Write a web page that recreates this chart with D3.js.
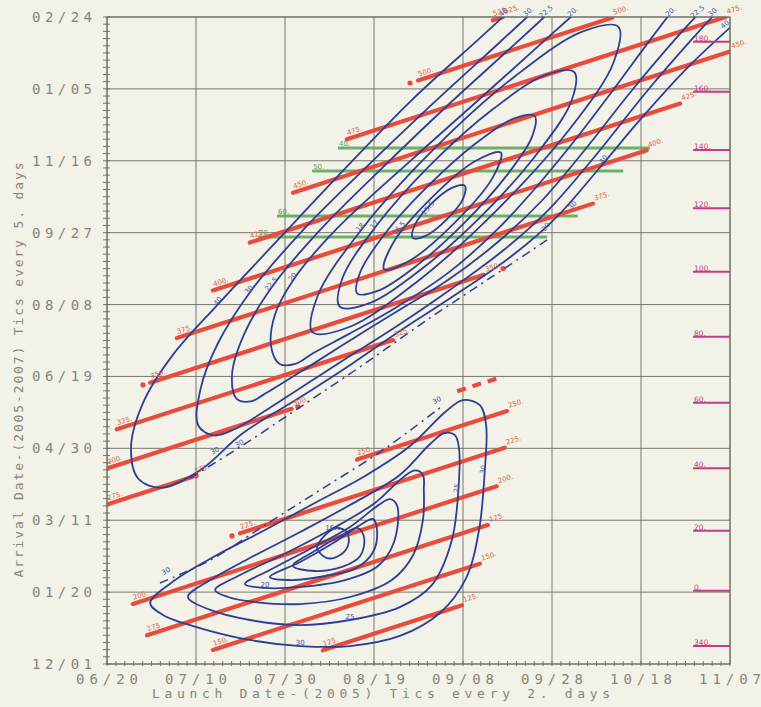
<!DOCTYPE html>
<html>
<head>
<meta charset="utf-8">
<script src="https://cdn.jsdelivr.net/npm/d3@7"></script>
<style>
  html, body { margin: 0; padding: 0; background: #f3f2e8; }
  svg { display: block; }
</style>
</head>
<body>
<svg id="chart" width="761" height="707"></svg>
<script>
// ---- Porkchop plot: Earth–Mars launch 2005, arrival 2005-2007 ----
// Launch values are days after 2005-06-20, arrival values days after 2005-12-01.

const launchTickDates = ["2005-06-20","2005-07-10","2005-07-30","2005-08-19","2005-09-08","2005-09-28","2005-10-18","2005-11-07"];
const arrivalTickDates = ["2005-12-01","2006-01-20","2006-03-11","2006-04-30","2006-06-19","2006-08-08","2006-09-27","2006-11-16","2007-01-05","2007-02-24"];

// Time-of-flight lines (days), with launch range drawn
const tofDays     = [125, 150, 175, 200, 225, 250, 275, 300, 325, 350, 375, 400, 425, 450, 475, 500, 525];
const tofLaunchLo = [48.5, 23.8, 9.0, 5.8, 29.9, 56.2, 0.0, 0.0, 2.2, 9.7, 15.7, 23.8, 32.1, 41.8, 53.9, 69.9, 86.7];
const tofLaunchHi = [79.8, 83.8, 85.6, 87.6, 89.4, 89.9, 19.3, 41.5, 64.3, 84.7, 109.2, 121.3, 128.8, 140, 140, 113.5, 89.0];
// dashed pieces of TOF lines: [tof, launchLo, launchHi]
const tofDashed = [[275, 78.7, 89.0]];
// isolated TOF points: [tof, launch]
const tofDots = [[350, 8.1], [500, 68.1], [300, 42.9], [275, 20.0], [225, 28.1], [350, 89.0]];

// Constant arrival-date lines
const greenArrival  = [358.9, 342.9, 311.6, 297.0];
const greenLaunchLo = [51.9, 46.1, 38.2, 33.9];
const greenLaunchHi = [122.0, 116.0, 105.8, 98.9];
const greenLabels   = ["40.", "50.", "60.", "70."];

// Mars solar longitude (Ls) at arrival
const lsLabels  = ["180.", "160.", "140.", "120.", "100.", "80.", "60.", "40.", "20.", "0.", "340."];
const lsArrival = [432.8, 398.0, 357.5, 316.9, 272.9, 227.6, 181.7, 136.1, 92.7, 51.0, 12.5];

// C3 contours, Type II (long transfers)
const c3Type2_40 = [[94.4,465.3],[83.6,434.8],[68.6,392.6],[54.5,347.8],[39.1,297.2],[25.3,251.4],[14.8,215.0],[8.1,181.6],[5.4,150.6],[7.0,129.0],[12.2,122.6],[21.0,134.9],[30.5,160.5],[43.4,185.5],[55.0,208.7],[65.9,231.8],[77.1,254.4],[91.0,283.9],[101.2,311.4],[110.1,342.9],[120.3,380.3],[130.9,416.2],[144.1,454.0]];
const c3Type2_30 = [[100.3,466.8],[87.9,431.4],[71.3,384.2],[56.7,340.9],[44.0,301.6],[32.3,259.3],[24.9,222.9],[21.0,191.0],[20.5,165.9],[24.0,159.0],[28.4,162.9],[38.3,181.6],[51.8,208.7],[65.0,234.7],[77.1,260.3],[89.5,288.8],[99.5,316.8],[109.8,353.7],[121.1,397.5],[131.4,434.4],[139.0,459.9]];
const c3Type2_25 = [[103.8,465.8],[91.4,430.4],[76.4,388.1],[61.8,344.9],[47.8,301.6],[37.3,263.2],[30.8,229.3],[28.1,201.3],[29.1,184.6],[32.3,182.6],[35.0,187.0],[45.8,207.7],[55.5,226.8],[65.3,245.5],[76.7,267.2],[87.9,293.7],[97.7,322.2],[107.9,359.6],[117.7,398.0],[127.9,435.3],[135.5,460.9]];
const c3Type2_20 = [[110.9,468.3],[99.1,435.8],[84.1,394.0],[69.0,352.2],[51.6,302.6],[42.1,268.2],[37.7,242.6],[36.9,220.5],[38.8,208.7],[42.3,208.7],[46.2,216.0],[54.5,229.8],[64.7,247.5],[77.1,273.1],[88.0,303.1],[97.1,334.0],[105.7,366.5],[113.9,399.9],[122.0,433.9],[128.9,461.9]];
const c3Type2_18 = [[114.9,443.2],[113.8,418.2],[103.8,371.4],[87.5,315.4],[69.4,265.2],[54.3,234.2],[46.2,230.8],[47.3,255.8],[57.3,302.6],[73.6,358.6],[91.7,408.8],[106.8,439.8]];
const c3Type2_17 = [[105.0,411.7],[104.4,391.9],[96.8,355.6],[84.4,312.4],[70.4,274.0],[58.7,250.6],[52.3,248.5],[52.9,268.3],[60.5,304.6],[72.9,347.8],[86.9,386.3],[98.6,409.7]];
const c3Type2_165 = [[96.1,381.2],[95.5,366.6],[89.7,339.3],[80.3,306.8],[69.8,277.6],[61.0,259.7],[56.2,257.8],[56.9,272.5],[62.6,299.8],[72.1,332.3],[82.6,361.5],[91.4,379.4]];
const c3Type2_16 = [[88.5,355.7],[86.6,337.9],[78.1,306.8],[68.0,280.5],[62.3,274.5],[64.2,292.3],[72.7,323.5],[82.7,349.7]];
const c3Type2_155 = [[80.4,332.7],[80.0,323.5],[76.3,309.1],[71.6,297.8],[68.7,296.3],[69.2,305.5],[72.8,319.9],[77.5,331.2]];
const type2Boundary = [[18.7,129.4],[29.9,150.9],[43.4,178.7],[57.5,208.0],[72.6,240.7],[86.1,268.5],[98.9,294.9]];

// C3 contours, Type I (short transfers)
const c3Type1_30 = [[9.7,42.4],[15.3,58.4],[24.3,75.1],[35.5,93.2],[46.7,112.0],[58.0,130.8],[68.1,151.6],[76.0,175.3],[80.0,183.6],[83.8,180.1],[85.2,166.2],[84.9,134.9],[83.6,93.2],[80.7,59.8],[74.8,35.5],[65.8,19.5],[54.6,12.5],[43.4,12.5],[32.1,16.7],[20.9,25.0],[12.6,34.1]];
const c3Type1_25 = [[18.2,46.6],[23.2,58.4],[32.1,73.7],[43.4,91.8],[54.6,110.6],[65.8,131.5],[72.6,153.0],[75.8,160.6],[78.2,159.2],[79.1,150.0],[79.1,128.0],[77.5,86.2],[73.0,54.9],[65.8,39.6],[54.6,30.6],[43.4,27.1],[32.1,30.6],[23.2,37.6]];
const c3Type1_225 = [[24.3,51.5],[29.9,61.9],[38.9,75.1],[50.1,93.2],[60.2,112.0],[66.5,129.8],[69.3,134.6],[71.0,131.5],[71.2,121.0],[71.0,100.2],[68.8,75.8],[64.0,58.4],[54.6,46.6],[43.4,41.7],[33.3,43.1],[27.2,46.6]];
const c3Type1_20 = [[31.0,55.6],[36.6,65.4],[45.6,80.0],[54.6,95.3],[61.0,110.5],[63.6,114.6],[65.2,110.0],[64.5,84.9],[60.9,68.2],[53.5,58.4],[43.4,53.6],[35.5,52.9]];
const c3Type1_18 = [[36.6,60.5],[43.4,70.9],[51.2,84.9],[56.9,96.7],[59.8,100.9],[60.7,92.5],[59.8,77.9],[56.0,66.8],[49.0,61.2],[41.6,58.4]];
const c3Type1_17 = [[41.8,68.2],[46.7,78.6],[52.4,89.0],[56.4,94.6],[57.8,87.6],[56.9,75.1],[52.8,67.5],[46.7,64.7]];
const c3Type1_165 = [[47.2,80.7],[48.8,89.0],[51.5,94.6],[53.9,91.8],[54.2,82.8],[52.4,75.8],[49.4,73.7]];
const type1Boundary = [[11.9,56.3],[23.2,72.3],[36.6,98.8],[47.9,121.0],[61.4,147.5],[74.8,178.1]];

const openContours   = [c3Type2_40, c3Type2_30, c3Type2_25, c3Type2_20];
const closedContours = [c3Type2_18, c3Type2_17, c3Type2_165, c3Type2_16, c3Type2_155,
                        c3Type1_30, c3Type1_25, c3Type1_225, c3Type1_20, c3Type1_18, c3Type1_17, c3Type1_165];
const boundaries     = [type2Boundary, type1Boundary];

// Contour labels: [launch, arrival, text, angle]
const c3Labels = [
  [89.6, 452.5, "40.", -40], [95.0, 452.5, "30.", -40], [99.0, 452.5, "22.5", -40], [105.0, 452.5, "20.", -40],
  [127.0, 452.5, "20.", -40], [133.0, 452.5, "22.5", -40], [136.6, 452.5, "30.", -40], [139.4, 444.0, "40.", -40],
  [25.3, 251.4, "40", -50], [32.3, 259.3, "30", -50], [37.3, 263.2, "22.5", -50], [42.1, 268.2, "20", -50],
  [57.3, 302.6, "18", -50], [60.5, 304.6, "17", -50], [66.0, 302.0, "16.5", -50], [72.5, 316.0, "15.5", -50],
  [99.0, 303.0, "20", -50], [105.0, 318.0, "30", -50], [112.0, 350.0, "40", -55],
  [24.5, 147.0, "30", -30], [30.0, 152.0, "30", -30],
  [13.5, 63.3, "30", -30], [74.4, 182.0, "30", -30],
  [43.4, 13.5, "30", 0], [54.6, 31.0, "25", 0], [35.5, 53.5, "20", 0], [85.0, 135.0, "30", -80],
  [79.1, 122.0, "25", -80], [50.8, 93.5, "16.5", 0]
];

// ---------------------------------------------------------------
const DAY = 864e5;
const parseDay = d3.utcParse("%Y-%m-%d");
const launch0 = parseDay(launchTickDates[0]);
const arrival0 = parseDay(arrivalTickDates[0]);
const launchAt = d => new Date(+launch0 + d * DAY);
const arriveAt = d => new Date(+arrival0 + d * DAY);
const arriveAfterLaunch = (l, tof) => new Date(+launch0 + (l + tof) * DAY);

const plot = { left: 107, right: 730, top: 17, bottom: 664 };
const x = d3.scaleUtc().domain([launch0, parseDay(launchTickDates[launchTickDates.length - 1])]).range([plot.left, plot.right]);
const y = d3.scaleUtc().domain([arrival0, parseDay(arrivalTickDates[arrivalTickDates.length - 1])]).range([plot.bottom, plot.top]);
const fmt = d3.utcFormat("%m/%d");

const svg = d3.select("#chart");
const textColor = "#85857b";
const gridColor = "#6a6a62";
const fontMono = "'DejaVu Sans Mono', 'Liberation Mono', monospace";

svg.append("rect").attr("width", 761).attr("height", 707).attr("fill", "#f3f2e8");

svg.append("defs").append("clipPath").attr("id", "plotClip")
  .append("rect").attr("x", plot.left).attr("y", plot.top)
  .attr("width", plot.right - plot.left).attr("height", plot.bottom - plot.top);

// grid
const grid = svg.append("g").attr("stroke", gridColor).attr("stroke-width", 0.9);
launchTickDates.forEach(d => {
  const px = x(parseDay(d));
  grid.append("line").attr("x1", px).attr("x2", px).attr("y1", plot.top).attr("y2", plot.bottom);
});
arrivalTickDates.forEach(d => {
  const py = y(parseDay(d));
  grid.append("line").attr("x1", plot.left).attr("x2", plot.right).attr("y1", py).attr("y2", py);
});

// minor ticks
const minor = svg.append("g").attr("stroke", gridColor).attr("stroke-width", 0.9);
d3.range(0, 141, 2).forEach(d => {
  const px = x(launchAt(d));
  minor.append("line").attr("x1", px).attr("x2", px).attr("y1", plot.bottom - 3).attr("y2", plot.bottom + 2);
});
d3.range(0, 451, 5).forEach(d => {
  const py = y(arriveAt(d));
  minor.append("line").attr("x1", plot.left - 4).attr("x2", plot.left + 3).attr("y1", py).attr("y2", py);
});

// tick labels
svg.append("g").selectAll("text").data(launchTickDates).join("text")
  .attr("x", d => x(parseDay(d))).attr("y", 684)
  .attr("text-anchor", "middle").attr("font-family", fontMono).attr("font-size", 14)
  .attr("fill", textColor).attr("textLength", 62).attr("lengthAdjust", "spacing")
  .text(d => fmt(parseDay(d)));
svg.append("g").selectAll("text").data(arrivalTickDates).join("text")
  .attr("x", 92).attr("y", d => y(parseDay(d)) + 5)
  .attr("text-anchor", "end").attr("font-family", fontMono).attr("font-size", 14)
  .attr("fill", textColor).attr("textLength", 60).attr("lengthAdjust", "spacing")
  .text(d => fmt(parseDay(d)));

// axis titles
svg.append("text").attr("x", 381).attr("y", 698).attr("text-anchor", "middle")
  .attr("font-family", fontMono).attr("font-size", 13).attr("fill", textColor)
  .attr("textLength", 458).attr("lengthAdjust", "spacing")
  .text("Launch Date-(2005) Tics every 2. days");
svg.append("text").attr("transform", "translate(23,370) rotate(-90)").attr("text-anchor", "middle")
  .attr("font-family", fontMono).attr("font-size", 13).attr("fill", textColor)
  .attr("textLength", 415).attr("lengthAdjust", "spacing")
  .text("Arrival Date-(2005-2007) Tics every 5. days");

// ---- data layers (clipped to the plot frame) ----
const layer = svg.append("g").attr("clip-path", "url(#plotClip)");
const labelLayer = svg.append("g");

// constant arrival-date lines
greenArrival.forEach((a, i) => {
  layer.append("line")
    .attr("x1", x(launchAt(greenLaunchLo[i]))).attr("x2", x(launchAt(greenLaunchHi[i])))
    .attr("y1", y(arriveAt(a))).attr("y2", y(arriveAt(a)))
    .attr("stroke", "#62a65c").attr("stroke-width", 3).attr("stroke-opacity", 0.9);
  labelLayer.append("text")
    .attr("x", x(launchAt(greenLaunchLo[i])) + 1).attr("y", y(arriveAt(a)) - 2)
    .attr("font-family", "DejaVu Sans").attr("font-size", 7).attr("fill", "#5a9a55")
    .text(greenLabels[i]);
});

// time-of-flight lines
const tofColor = "#e84c3d";
const arrivalMax = 450;
const tofAngle = Math.atan2(y(arriveAt(1)) - y(arriveAt(0)), x(launchAt(1)) - x(launchAt(0))) * 180 / Math.PI;
tofDays.forEach((tof, i) => {
  const lo = tofLaunchLo[i];
  const hi = Math.min(tofLaunchHi[i], arrivalMax + 164 - tof);
  const x1 = x(launchAt(lo)), y1 = y(arriveAfterLaunch(lo, tof));
  const x2 = x(launchAt(hi)), y2 = y(arriveAfterLaunch(hi, tof));
  layer.append("line").attr("x1", x1).attr("y1", y1).attr("x2", x2).attr("y2", y2)
    .attr("stroke", tofColor).attr("stroke-width", 4.2).attr("stroke-linecap", "round");
  labelLayer.append("text").attr("transform", `translate(${x1 + 1},${y1 - 4}) rotate(${tofAngle})`)
    .attr("font-family", "DejaVu Sans").attr("font-size", 7).attr("fill", "#e2603c").text(tof + ".");
  labelLayer.append("text").attr("transform", `translate(${x2 + 2},${y2 - 3}) rotate(${tofAngle})`)
    .attr("font-family", "DejaVu Sans").attr("font-size", 7).attr("fill", "#e2603c").text(tof + ".");
});
tofDashed.forEach(([tof, lo, hi]) => {
  layer.append("line")
    .attr("x1", x(launchAt(lo))).attr("y1", y(arriveAfterLaunch(lo, tof)))
    .attr("x2", x(launchAt(hi))).attr("y2", y(arriveAfterLaunch(hi, tof)))
    .attr("stroke", tofColor).attr("stroke-width", 4.2).attr("stroke-dasharray", "9,7");
});
tofDots.forEach(([tof, l]) => {
  layer.append("circle").attr("cx", x(launchAt(l))).attr("cy", y(arriveAfterLaunch(l, tof)))
    .attr("r", 2.6).attr("fill", tofColor);
});

// C3 contours
const c3Color = "#2c3f93";
const lineOpen = d3.line().x(p => x(launchAt(p[0]))).y(p => y(arriveAt(p[1]))).curve(d3.curveCatmullRom.alpha(0.5));
const lineClosed = d3.line().x(p => x(launchAt(p[0]))).y(p => y(arriveAt(p[1]))).curve(d3.curveCatmullRomClosed.alpha(0.5));
openContours.forEach(c => layer.append("path").attr("d", lineOpen(c))
  .attr("fill", "none").attr("stroke", c3Color).attr("stroke-width", 1.8));
closedContours.forEach(c => layer.append("path").attr("d", lineClosed(c))
  .attr("fill", "none").attr("stroke", c3Color).attr("stroke-width", 1.8));
boundaries.forEach(c => layer.append("path").attr("d", lineOpen(c))
  .attr("fill", "none").attr("stroke", c3Color).attr("stroke-width", 1.5)
  .attr("stroke-dasharray", "9,5,2,5"));

c3Labels.forEach(([l, a, t, ang]) => {
  labelLayer.append("text")
    .attr("transform", `translate(${x(launchAt(l))},${y(arriveAt(a))}) rotate(${ang})`)
    .attr("font-family", "DejaVu Sans").attr("font-size", 7).attr("fill", "#3a55a8")
    .attr("text-anchor", "middle").text(t);
});

// Ls marks on the right side
const lsColor = "#c63c7e";
lsArrival.forEach((a, i) => {
  const py = y(arriveAt(a));
  svg.append("line").attr("x1", x(launchAt(131.7))).attr("x2", plot.right)
    .attr("y1", py).attr("y2", py).attr("stroke", lsColor).attr("stroke-width", 2);
  svg.append("text").attr("x", x(launchAt(131.7)) + 1).attr("y", py - 1)
    .attr("font-family", "DejaVu Sans").attr("font-size", 7.5).attr("fill", lsColor)
    .text(lsLabels[i]);
});

// frame
svg.append("rect").attr("x", plot.left).attr("y", plot.top)
  .attr("width", plot.right - plot.left).attr("height", plot.bottom - plot.top)
  .attr("fill", "none").attr("stroke", gridColor).attr("stroke-width", 1);
</script>
</body>
</html>
